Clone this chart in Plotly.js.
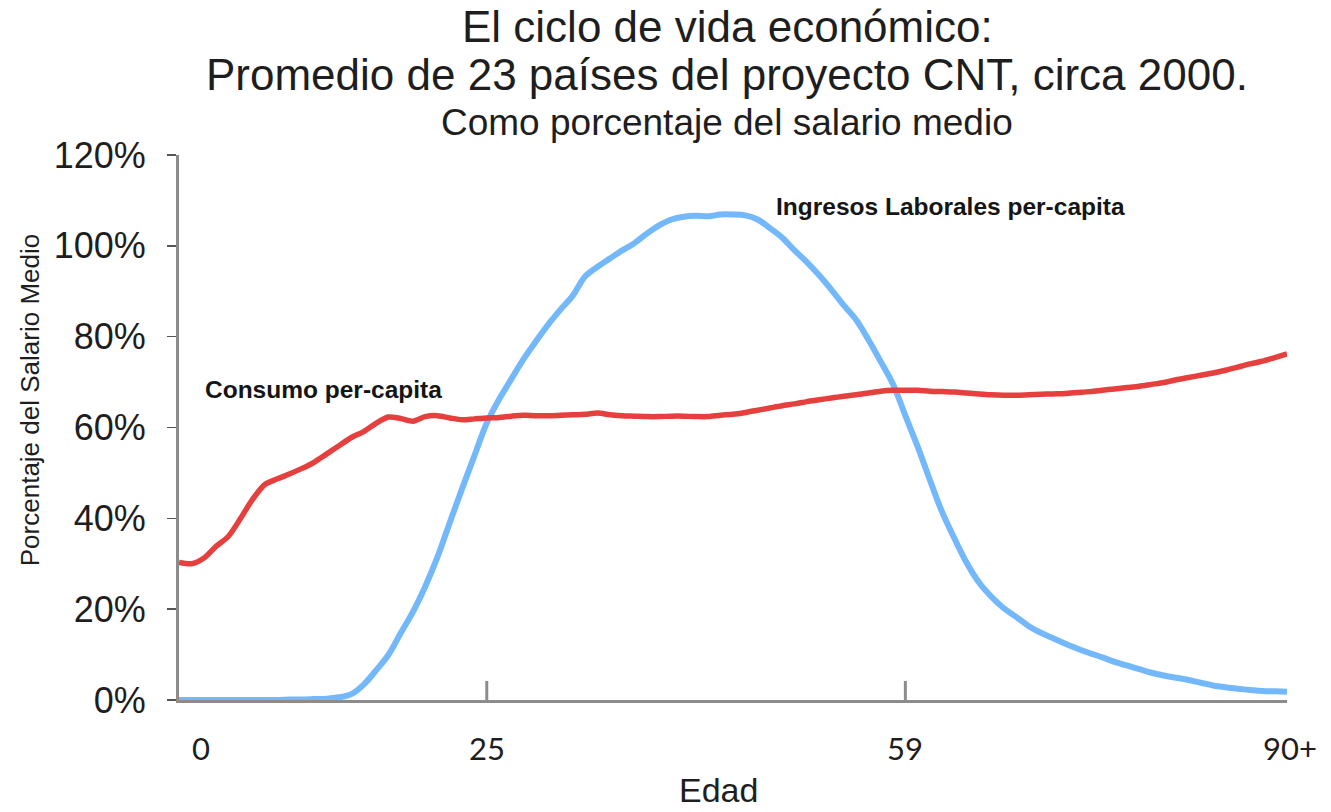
<!DOCTYPE html>
<html>
<head>
<meta charset="utf-8">
<script src="https://cdn.plot.ly/plotly-3.0.1.min.js"></script>
<style>
  html, body { margin: 0; padding: 0; background: #ffffff; }
  #chart { width: 1331px; height: 812px; }
</style>
</head>
<body>
<div id="chart"></div>
<script>
// Age (years); last value represents the 90+ group
const ages = [0,1,2,3,4,5,6,7,8,9,10,11,12,13,14,15,16,17,18,19,20,21,22,23,24,25,26,27,28,29,30,
  31,32,33,34,35,36,37,38,39,40,41,42,43,44,45,46,47,48,49,50,51,52,53,54,55,56,57,58,59,60,
  61,62,63,64,65,66,67,68,69,70,71,72,73,74,75,76,77,78,79,80,81,82,83,84,85,86,87,88,89,90];

// Consumo per-capita (% del salario medio)
const consumo = [30.3,30.0,31.2,33.8,36.0,40.0,44.3,47.5,48.7,49.8,51.0,52.4,54.2,56.0,57.8,59.1,
  60.9,62.3,62.0,61.4,62.4,62.6,62.1,61.7,61.9,62.1,62.2,62.5,62.7,62.6,62.6,62.7,62.8,62.9,63.2,
  62.8,62.6,62.5,62.4,62.4,62.5,62.5,62.4,62.4,62.7,62.9,63.3,63.8,64.3,64.8,65.2,65.7,66.1,66.5,
  66.9,67.2,67.6,68.0,68.2,68.2,68.2,68.0,67.9,67.8,67.6,67.4,67.2,67.1,67.1,67.2,67.3,67.4,67.5,
  67.7,67.9,68.2,68.5,68.8,69.1,69.5,69.9,70.5,71.0,71.5,72.0,72.6,73.3,74.0,74.6,75.4,76.2];

// Ingresos laborales per-capita (% del salario medio)
const ingresos = [0,0,0,0,0,0,0,0,0,0.1,0.1,0.2,0.3,0.6,1.3,3.4,6.5,9.9,14.7,19.4,25.0,31.5,39.1,
  46.6,53.8,61.0,66.2,70.7,75.1,79.0,82.7,86.0,89.1,93.3,95.4,97.2,99.0,100.6,102.7,104.5,105.8,
  106.4,106.6,106.5,106.9,106.9,106.7,105.8,103.9,101.8,99.0,96.4,93.5,90.3,86.9,83.7,79.3,74.5,
  69.5,62.6,55.8,48.4,41.3,35.5,30.1,25.8,22.7,20.2,18.3,16.3,14.8,13.6,12.4,11.3,10.3,9.4,8.4,
  7.6,6.8,6.0,5.4,4.9,4.4,3.8,3.2,2.8,2.5,2.2,2.0,1.9,1.8];

// Axis labels
const xTickAges = [25, 59];
const xLabelPos = [1.8, 25, 59, 90];
const xLabelShift = [0, 0, 0, 3];
const xLabelText = ['0', '25', '59', '90+'];
const yTickVals = [0, 20, 40, 60, 80, 100, 120];
const yTickText = ['0%', '20%', '40%', '60%', '80%', '100%', '120%'];

const titleLines = ['El ciclo de vida económico:', 'Promedio de 23 países del proyecto CNT, circa 2000.'];
const subtitle = 'Como porcentaje del salario medio';

const AX = '#8c8c8c';
const TXT = '#1e1e1e';
const SANS = 'Liberation Sans, Arial, Helvetica, sans-serif';

const traces = [
  { x: ages, y: ingresos, type: 'scatter', mode: 'lines', name: 'Ingresos Laborales per-capita',
    line: { color: '#74b8fc', width: 6, shape: 'spline', smoothing: 1 }, cliponaxis: false, hoverinfo: 'skip' },
  { x: ages, y: consumo, type: 'scatter', mode: 'lines', name: 'Consumo per-capita',
    line: { color: '#e5403d', width: 5.5, shape: 'spline', smoothing: 0.8 }, cliponaxis: false, hoverinfo: 'skip' }
];

const annotations = [
  { text: titleLines[0], xref: 'paper', yref: 'paper', x: 0.4946, y: 1.235, showarrow: false,
    xanchor: 'center', yanchor: 'middle', font: { family: SANS, size: 44, color: TXT } },
  { text: titleLines[1], xref: 'paper', yref: 'paper', x: 0.4946, y: 1.148, showarrow: false,
    xanchor: 'center', yanchor: 'middle', font: { family: SANS, size: 44, color: TXT } },
  { text: subtitle, xref: 'paper', yref: 'paper', x: 0.4946, y: 1.06, showarrow: false,
    xanchor: 'center', yanchor: 'middle', font: { family: SANS, size: 37, color: TXT } },
  { text: 'Porcentaje del Salario Medio', xref: 'paper', yref: 'paper', x: -0.1345, y: 0.55,
    textangle: -90, showarrow: false, xanchor: 'center', yanchor: 'middle',
    font: { family: SANS, size: 26, color: TXT } },
  { text: 'Edad', xref: 'paper', yref: 'paper', x: 0.4865, y: -0.166, showarrow: false,
    xanchor: 'center', yanchor: 'middle', font: { family: SANS, size: 34, color: TXT } },
  { text: '<b>Consumo per-capita</b>', xref: 'x', yref: 'y', x: 11.7, y: 68.3, showarrow: false,
    xanchor: 'center', yanchor: 'middle', font: { family: SANS, size: 24.5, color: '#151515' } },
  { text: '<b>Ingresos Laborales per-capita</b>', xref: 'x', yref: 'y', x: 62.7, y: 108.6, showarrow: false,
    xanchor: 'center', yanchor: 'middle', font: { family: SANS, size: 24.5, color: '#151515' } }
];
xLabelPos.forEach((p, i) => {
  annotations.push({ text: xLabelText[i], xref: 'x', yref: 'paper', x: p, xshift: xLabelShift[i], y: -0.088,
    showarrow: false, xanchor: 'center', yanchor: 'middle',
    font: { family: 'Lato, Carlito, sans-serif', size: 31, color: TXT } });
});

const shapes = xTickAges.map(a => ({
  type: 'line', xref: 'x', yref: 'y', x0: a, x1: a, y0: -4.2, y1: 4.2,
  line: { color: AX, width: 3 }, layer: 'above'
}));

const layout = {
  width: 1331, height: 812,
  margin: { l: 179, r: 44, t: 155, b: 112 },
  paper_bgcolor: '#ffffff', plot_bgcolor: '#ffffff',
  showlegend: false,
  xaxis: {
    range: [0, 90], showline: true, linecolor: AX, linewidth: 3, layer: 'below traces',
    showticklabels: false, ticks: '', showgrid: false, zeroline: false, fixedrange: true
  },
  yaxis: {
    range: [0, 120], tickmode: 'array', tickvals: yTickVals, ticktext: yTickText,
    ticks: 'outside', ticklen: 9, tickwidth: 1.5, tickcolor: '#555555',
    showline: true, linecolor: AX, linewidth: 3, layer: 'below traces',
    tickfont: { family: SANS, size: 36, color: TXT }, ticklabelstandoff: 14,
    showgrid: false, zeroline: false, fixedrange: true
  },
  annotations: annotations,
  shapes: shapes
};

Plotly.newPlot('chart', traces, layout, { displayModeBar: false, staticPlot: true });
</script>
</body>
</html>
